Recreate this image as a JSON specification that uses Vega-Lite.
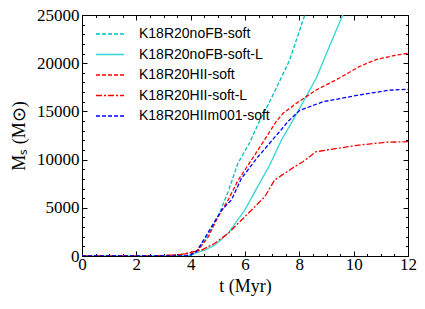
{
  "$schema": "https://vega.github.io/schema/vega-lite/v6.json",
  "width": 326,
  "height": 241,
  "autosize": {"type": "none"},
  "padding": {"left": 82, "top": 15, "right": 17, "bottom": 53},
  "background": "white",
  "config": {
    "view": {"stroke": "black", "strokeWidth": 1},
    "axis": {"domain": false, "grid": false, "tickColor": "black", "labelColor": "black", "titleColor": "black", "labelFont": "Liberation Serif", "titleFont": "Liberation Serif", "labelFontSize": 17, "titleFontSize": 18, "titleFontWeight": "normal", "labelFlush": false, "format": "d"}
  },
  "data": {"values": [
    {"s": "K18R20noFB-soft", "t": 0, "M": 0},
    {"s": "K18R20noFB-soft", "t": 3.8, "M": 20},
    {"s": "K18R20noFB-soft", "t": 4.0, "M": 120},
    {"s": "K18R20noFB-soft", "t": 4.22, "M": 450},
    {"s": "K18R20noFB-soft", "t": 4.52, "M": 1660},
    {"s": "K18R20noFB-soft", "t": 5.01, "M": 4080},
    {"s": "K18R20noFB-soft", "t": 5.38, "M": 6670},
    {"s": "K18R20noFB-soft", "t": 5.74, "M": 9620},
    {"s": "K18R20noFB-soft", "t": 6.18, "M": 11800},
    {"s": "K18R20noFB-soft", "t": 6.55, "M": 14100},
    {"s": "K18R20noFB-soft", "t": 6.91, "M": 16000},
    {"s": "K18R20noFB-soft", "t": 7.64, "M": 20300},
    {"s": "K18R20noFB-soft", "t": 8.2, "M": 25000},
    {"s": "K18R20noFB-soft", "t": 8.4, "M": 26500},
    {"s": "K18R20noFB-soft-L", "t": 0, "M": 0},
    {"s": "K18R20noFB-soft-L", "t": 3.8, "M": 0},
    {"s": "K18R20noFB-soft-L", "t": 4.0, "M": 80},
    {"s": "K18R20noFB-soft-L", "t": 4.22, "M": 350},
    {"s": "K18R20noFB-soft-L", "t": 4.52, "M": 620},
    {"s": "K18R20noFB-soft-L", "t": 4.89, "M": 1140},
    {"s": "K18R20noFB-soft-L", "t": 5.38, "M": 2350},
    {"s": "K18R20noFB-soft-L", "t": 5.99, "M": 4770},
    {"s": "K18R20noFB-soft-L", "t": 6.6, "M": 7880},
    {"s": "K18R20noFB-soft-L", "t": 6.91, "M": 9440},
    {"s": "K18R20noFB-soft-L", "t": 7.34, "M": 12030},
    {"s": "K18R20noFB-soft-L", "t": 7.83, "M": 14400},
    {"s": "K18R20noFB-soft-L", "t": 8.62, "M": 18430},
    {"s": "K18R20noFB-soft-L", "t": 9.1, "M": 21700},
    {"s": "K18R20noFB-soft-L", "t": 9.6, "M": 25000},
    {"s": "K18R20noFB-soft-L", "t": 9.8, "M": 26300},
    {"s": "K18R20HII-soft", "t": 0, "M": 0},
    {"s": "K18R20HII-soft", "t": 2.5, "M": 10},
    {"s": "K18R20HII-soft", "t": 3.0, "M": 40},
    {"s": "K18R20HII-soft", "t": 3.5, "M": 110},
    {"s": "K18R20HII-soft", "t": 3.9, "M": 250},
    {"s": "K18R20HII-soft", "t": 4.28, "M": 620},
    {"s": "K18R20HII-soft", "t": 4.65, "M": 2000},
    {"s": "K18R20HII-soft", "t": 5.01, "M": 4080},
    {"s": "K18R20HII-soft", "t": 5.38, "M": 5810},
    {"s": "K18R20HII-soft", "t": 5.75, "M": 7880},
    {"s": "K18R20HII-soft", "t": 6.48, "M": 11000},
    {"s": "K18R20HII-soft", "t": 7.16, "M": 14000},
    {"s": "K18R20HII-soft", "t": 7.4, "M": 14800},
    {"s": "K18R20HII-soft", "t": 7.89, "M": 15840},
    {"s": "K18R20HII-soft", "t": 8.62, "M": 17220},
    {"s": "K18R20HII-soft", "t": 9.48, "M": 18460},
    {"s": "K18R20HII-soft", "t": 10.2, "M": 19640},
    {"s": "K18R20HII-soft", "t": 10.85, "M": 20400},
    {"s": "K18R20HII-soft", "t": 11.5, "M": 20800},
    {"s": "K18R20HII-soft", "t": 12, "M": 21030},
    {"s": "K18R20HII-soft-L", "t": 0, "M": 0},
    {"s": "K18R20HII-soft-L", "t": 2.5, "M": 10},
    {"s": "K18R20HII-soft-L", "t": 3.0, "M": 40},
    {"s": "K18R20HII-soft-L", "t": 3.5, "M": 110},
    {"s": "K18R20HII-soft-L", "t": 3.79, "M": 250},
    {"s": "K18R20HII-soft-L", "t": 4.4, "M": 620},
    {"s": "K18R20HII-soft-L", "t": 4.89, "M": 1320},
    {"s": "K18R20HII-soft-L", "t": 5.38, "M": 2350},
    {"s": "K18R20HII-soft-L", "t": 5.75, "M": 3390},
    {"s": "K18R20HII-soft-L", "t": 6.24, "M": 4770},
    {"s": "K18R20HII-soft-L", "t": 6.73, "M": 6150},
    {"s": "K18R20HII-soft-L", "t": 7.09, "M": 7880},
    {"s": "K18R20HII-soft-L", "t": 7.83, "M": 9270},
    {"s": "K18R20HII-soft-L", "t": 8.13, "M": 9780},
    {"s": "K18R20HII-soft-L", "t": 8.62, "M": 10820},
    {"s": "K18R20HII-soft-L", "t": 9.48, "M": 11200},
    {"s": "K18R20HII-soft-L", "t": 10.2, "M": 11510},
    {"s": "K18R20HII-soft-L", "t": 11.2, "M": 11800},
    {"s": "K18R20HII-soft-L", "t": 12, "M": 11860},
    {"s": "K18R20HIIm001-soft", "t": 0, "M": 0},
    {"s": "K18R20HIIm001-soft", "t": 3.8, "M": 0},
    {"s": "K18R20HIIm001-soft", "t": 4.0, "M": 120},
    {"s": "K18R20HIIm001-soft", "t": 4.22, "M": 450},
    {"s": "K18R20HIIm001-soft", "t": 4.4, "M": 1320},
    {"s": "K18R20HIIm001-soft", "t": 4.77, "M": 3040},
    {"s": "K18R20HIIm001-soft", "t": 5.14, "M": 4770},
    {"s": "K18R20HIIm001-soft", "t": 5.5, "M": 5810},
    {"s": "K18R20HIIm001-soft", "t": 5.87, "M": 8060},
    {"s": "K18R20HIIm001-soft", "t": 6.48, "M": 10300},
    {"s": "K18R20HIIm001-soft", "t": 7.22, "M": 12730},
    {"s": "K18R20HIIm001-soft", "t": 7.6, "M": 14000},
    {"s": "K18R20HIIm001-soft", "t": 8.01, "M": 15100},
    {"s": "K18R20HIIm001-soft", "t": 8.87, "M": 16000},
    {"s": "K18R20HIIm001-soft", "t": 10.2, "M": 16700},
    {"s": "K18R20HIIm001-soft", "t": 11.3, "M": 17200},
    {"s": "K18R20HIIm001-soft", "t": 12, "M": 17290}
  ]},
  "resolve": {"axis": {"x": "independent", "y": "independent"}},
  "layer": [
    {
      "mark": {"type": "line", "clip": true, "strokeWidth": 1.3},
      "encoding": {
        "x": {"field": "t", "type": "quantitative", "scale": {"domain": [0, 12], "nice": false}, "axis": {"orient": "bottom", "title": "t (Myr)", "values": [0, 2, 4, 6, 8, 10, 12], "tickSize": -5, "labelPadding": 5, "titlePadding": 5}},
        "y": {"field": "M", "type": "quantitative", "scale": {"domain": [0, 25000], "nice": false}, "axis": {"orient": "left", "title": "Mₛ (M⊙)", "values": [0, 5000, 10000, 15000, 20000, 25000], "tickSize": -5, "labelPadding": 8, "titlePadding": 8}},
        "color": {"field": "s", "type": "nominal", "scale": {"domain": ["K18R20noFB-soft", "K18R20noFB-soft-L", "K18R20HII-soft", "K18R20HII-soft-L", "K18R20HIIm001-soft"], "range": ["#00BFBF", "#33D6D6", "#FF0000", "#FF0000", "#0000FF"]},
          "legend": {"orient": "none", "legendX": 17, "legendY": 8, "title": null, "labelFont": "Liberation Sans", "labelFontSize": 14, "labelColor": "black", "symbolType": "M-1.4,0H1.4", "symbolSize": 400, "symbolStrokeWidth": 1.5, "symbolFillColor": "transparent", "rowPadding": 2.5, "labelOffset": 18}},
        "strokeDash": {"field": "s", "type": "nominal", "scale": {"domain": ["K18R20noFB-soft", "K18R20noFB-soft-L", "K18R20HII-soft", "K18R20HII-soft-L", "K18R20HIIm001-soft"], "range": [[4, 2], [1, 0], [4, 2], [6, 2, 2, 2], [4, 2]]}},
        "order": {"field": "t", "type": "quantitative"}
      }
    },
    {
      "mark": {"type": "line", "opacity": 0},
      "encoding": {
        "x": {"field": "t", "type": "quantitative", "axis": {"orient": "top", "title": null, "labels": false, "values": [0, 2, 4, 6, 8, 10, 12], "tickSize": -5}},
        "y": {"field": "M", "type": "quantitative", "axis": {"orient": "right", "title": null, "labels": false, "values": [0, 5000, 10000, 15000, 20000, 25000], "tickSize": -5}},
        "detail": {"field": "s"}
      }
    },
    {
      "mark": {"type": "line", "opacity": 0},
      "encoding": {
        "x": {"field": "t", "type": "quantitative", "axis": {"orient": "bottom", "title": null, "labels": false, "values": [0.5, 1, 1.5, 2.5, 3, 3.5, 4.5, 5, 5.5, 6.5, 7, 7.5, 8.5, 9, 9.5, 10.5, 11, 11.5], "tickSize": -2.5}},
        "y": {"field": "M", "type": "quantitative", "axis": {"orient": "left", "title": null, "labels": false, "values": [1000, 2000, 3000, 4000, 6000, 7000, 8000, 9000, 11000, 12000, 13000, 14000, 16000, 17000, 18000, 19000, 21000, 22000, 23000, 24000], "tickSize": -2.5}},
        "detail": {"field": "s"}
      }
    },
    {
      "mark": {"type": "line", "opacity": 0},
      "encoding": {
        "x": {"field": "t", "type": "quantitative", "axis": {"orient": "top", "title": null, "labels": false, "values": [0.5, 1, 1.5, 2.5, 3, 3.5, 4.5, 5, 5.5, 6.5, 7, 7.5, 8.5, 9, 9.5, 10.5, 11, 11.5], "tickSize": -2.5}},
        "y": {"field": "M", "type": "quantitative", "axis": {"orient": "right", "title": null, "labels": false, "values": [1000, 2000, 3000, 4000, 6000, 7000, 8000, 9000, 11000, 12000, 13000, 14000, 16000, 17000, 18000, 19000, 21000, 22000, 23000, 24000], "tickSize": -2.5}},
        "detail": {"field": "s"}
      }
    }
  ]
}
